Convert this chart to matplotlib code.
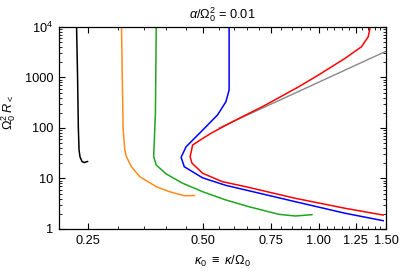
import numpy as np
import matplotlib
matplotlib.use("Agg")
import matplotlib.pyplot as plt
from matplotlib.ticker import FixedLocator, FixedFormatter, NullFormatter

plt.rcParams['font.family'] = ['Liberation Sans', 'DejaVu Sans']
plt.rcParams['mathtext.fontset'] = 'custom'
plt.rcParams['mathtext.rm'] = 'Liberation Sans'
plt.rcParams['mathtext.it'] = 'Liberation Sans:italic'

# curves (kappa_0, Omega_0^2 R)
black_k = [0.2334, 0.2348, 0.2359, 0.2369, 0.2383, 0.2412, 0.2441, 0.2493]
black_r = [10000, 1023, 100, 36.7, 26.7, 21.7, 20.7, 21.7]

orange_k = [0.3058, 0.3087, 0.3119, 0.315, 0.3246, 0.341, 0.3768, 0.408, 0.446, 0.474]
orange_r = [10000, 100, 36.7, 27, 17.1, 10.9, 6.88, 5.48, 4.56, 4.6]

green_k = [0.3768, 0.375, 0.371, 0.3768, 0.400, 0.442, 0.498, 0.573, 0.658, 0.788, 0.870, 0.961]
green_r = [10000, 198, 27, 18.5, 12.3, 8.03, 5.48, 3.75, 2.76, 1.95, 1.81, 1.92]

blue_k = [0.584, 0.584, 0.573, 0.5446, 0.4935, 0.451, 0.4376, 0.446, 0.498, 0.573, 0.645, 0.870, 1.173, 1.475]
blue_r = [10000, 565, 332, 181, 84.5, 42.6, 26.3, 17.1, 10.3, 7.3, 5.92, 3.47, 2.05, 1.46]

red_k = [1.363, 1.362, 1.348, 1.295, 1.173, 1.0, 0.888, 0.727, 0.596, 0.5236, 0.498, 0.469,
         0.462, 0.467, 0.498, 0.561, 0.645, 0.870, 1.173, 1.475]
red_r = [10000, 9400, 6427, 4074, 2399, 1122, 657, 285, 133, 78.5, 62, 46,
         27, 20.2, 12.7, 8.64, 6.88, 4.05, 2.57, 1.89]

gray_k = [0.55, 1.5]
gray_r = [100, 3310]

x_major = [0.25, 0.5, 0.75, 1.0, 1.25, 1.5]
x_labels = ['0.25', '0.50', '0.75', '1.00', '1.25', '1.50']
y_major = [1, 10, 100, 1000, 10000]
y_labels = ['1', '10', '100', '1000', '$10^4$']

fig = plt.figure(figsize=(4.12, 2.73), dpi=100)
ax = fig.add_axes([0.1432, 0.1612, 0.7937, 0.7399])

ax.plot(gray_k, gray_r, color='#888888', lw=1.0)
ax.plot(black_k, black_r, color='black', lw=1.1)
ax.plot(orange_k, orange_r, color='#ff8c1a', lw=1.1)
ax.plot(green_k, green_r, color='#1fa51f', lw=1.1)
ax.plot(blue_k, blue_r, color='#0000ff', lw=1.1)
ax.plot(red_k, red_r, color='#ff0000', lw=1.1)

ax.set_xscale('log')
ax.set_yscale('log')
ax.set_xlim(0.21, 1.5)
ax.set_ylim(1, 10000)

ax.xaxis.set_major_locator(FixedLocator(x_major))
ax.xaxis.set_major_formatter(FixedFormatter(x_labels))
ax.xaxis.set_minor_locator(FixedLocator(np.arange(0.25, 1.51, 0.05)))
ax.xaxis.set_minor_formatter(NullFormatter())
ax.yaxis.set_major_locator(FixedLocator(y_major))
ax.yaxis.set_major_formatter(FixedFormatter(y_labels))

ax.tick_params(which='both', direction='in', top=True, right=True, labelsize=9.2, pad=4)
ax.tick_params(which='major', length=4, width=0.8)
ax.tick_params(which='minor', length=2, width=0.6)
for s in ax.spines.values():
    s.set_linewidth(0.9)

ax.set_title(r'$\alpha/\Omega_0^2$ = 0.01', fontsize=9.2, pad=6)
ax.set_xlabel(r'$\kappa_0$ $\equiv$ $\kappa/\Omega_0$', fontsize=9.2, labelpad=5)
ax.set_ylabel(r'$\Omega_0^2\;R_<$', fontsize=9.2)
ax.yaxis.set_label_coords(-0.125, 0.58)

fig.savefig('out.png', dpi=100)
